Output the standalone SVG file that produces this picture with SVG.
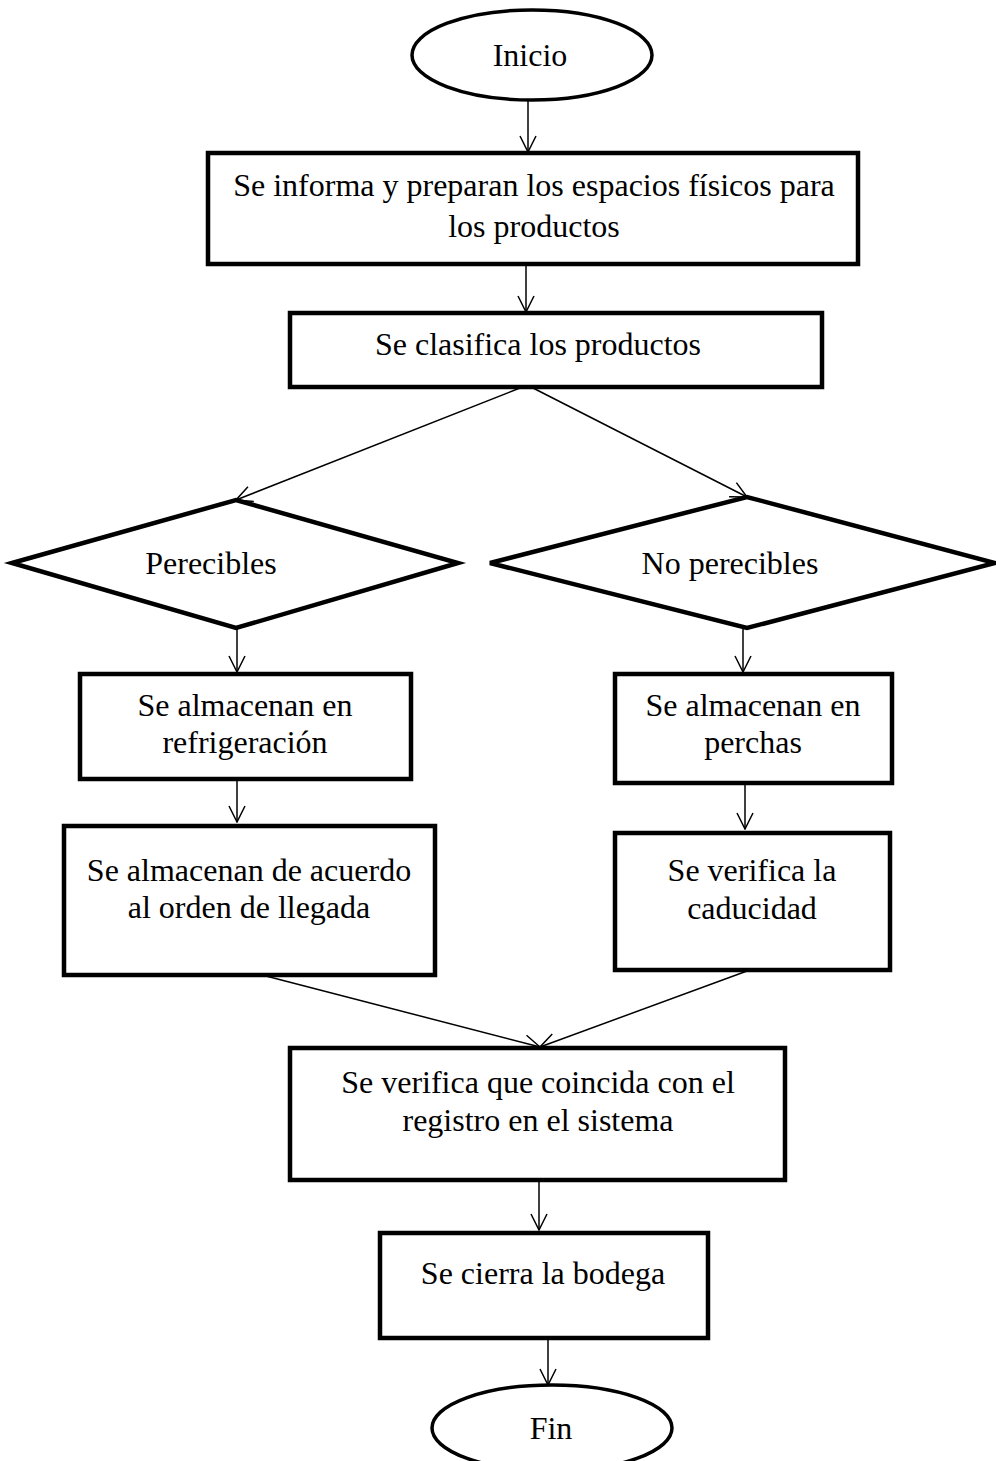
<svg xmlns="http://www.w3.org/2000/svg" width="996" height="1461" viewBox="0 0 996 1461">
<style>
.shape{fill:#fff;stroke:#000;stroke-width:4.5;stroke-linejoin:miter}
.oval{fill:#fff;stroke:#000;stroke-width:3.5}
.t{font-family:"Liberation Serif","Times New Roman",serif;font-size:32px;fill:#000;text-anchor:middle}
.c{stroke:#000;stroke-width:1.5;fill:none;marker-end:url(#ah)}
</style>
<defs>
<marker id="ah" viewBox="0 0 18 18" refX="17" refY="9" markerWidth="18" markerHeight="18" markerUnits="userSpaceOnUse" orient="auto">
<path d="M1,1 L17,9 L1,17" fill="none" stroke="#000" stroke-width="1.5"/>
</marker>
</defs>
<rect width="996" height="1461" fill="#fff"/>
<g id="connectors">
<line class="c" x1="528" y1="100" x2="528" y2="152"/>
<line class="c" x1="526" y1="264" x2="526" y2="312"/>
<line class="c" x1="520" y1="388" x2="236" y2="500"/>
<line class="c" x1="533" y1="388" x2="747" y2="497"/>
<line class="c" x1="237" y1="628" x2="237" y2="672"/>
<line class="c" x1="743" y1="628" x2="743" y2="672"/>
<line class="c" x1="237" y1="780" x2="237" y2="822"/>
<line class="c" x1="745" y1="783" x2="745" y2="829"/>
<line class="c" x1="262" y1="975" x2="540" y2="1047"/>
<line class="c" x1="747" y1="971" x2="540" y2="1047"/>
<line class="c" x1="539" y1="1180" x2="539" y2="1230"/>
<line class="c" x1="548" y1="1338" x2="548" y2="1385"/>
</g>
<g id="inicio">
<ellipse class="oval" cx="532" cy="55" rx="120" ry="45"/>
<text class="t" x="530" y="66">Inicio</text>
</g>
<g id="preparar">
<rect class="shape" x="208" y="153" width="650" height="111"/>
<text class="t" x="534" y="196">Se informa y preparan los espacios físicos para</text>
<text class="t" x="534" y="237">los productos</text>
</g>
<g id="clasificar">
<rect class="shape" x="290" y="313" width="532" height="74"/>
<text class="t" x="538" y="355">Se clasifica los productos</text>
</g>
<g id="perecibles">
<polygon class="shape" points="12,563 236,500 458,563 236,628"/>
<text class="t" x="211" y="574">Perecibles</text>
</g>
<g id="noperecibles">
<polygon class="shape" points="490,563 747,497 995,563 747,628"/>
<text class="t" x="730" y="574">No perecibles</text>
</g>
<g id="refrigeracion">
<rect class="shape" x="80" y="674" width="331" height="105"/>
<text class="t" x="245" y="716">Se almacenan en</text>
<text class="t" x="245" y="753">refrigeración</text>
</g>
<g id="orden">
<rect class="shape" x="64" y="826" width="371" height="149"/>
<text class="t" x="249" y="881">Se almacenan de acuerdo</text>
<text class="t" x="249" y="918">al orden de llegada</text>
</g>
<g id="perchas">
<rect class="shape" x="615" y="674" width="277" height="109"/>
<text class="t" x="753" y="716">Se almacenan en</text>
<text class="t" x="753" y="753">perchas</text>
</g>
<g id="caducidad">
<rect class="shape" x="615" y="833" width="275" height="137"/>
<text class="t" x="752" y="881">Se verifica la</text>
<text class="t" x="752" y="919">caducidad</text>
</g>
<g id="registro">
<rect class="shape" x="290" y="1048" width="495" height="132"/>
<text class="t" x="538" y="1093">Se verifica que coincida con el</text>
<text class="t" x="538" y="1131">registro en el sistema</text>
</g>
<g id="cierre">
<rect class="shape" x="380" y="1233" width="328" height="105"/>
<text class="t" x="543" y="1284">Se cierra la bodega</text>
</g>
<g id="fin">
<ellipse class="oval" cx="552" cy="1428" rx="120" ry="43"/>
<text class="t" x="551" y="1439">Fin</text>
</g>
</svg>
